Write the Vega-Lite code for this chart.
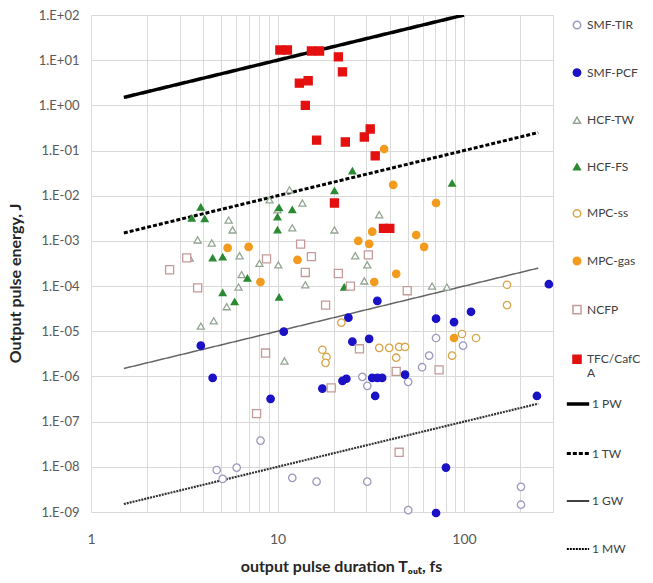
{
  "$schema": "https://vega.github.io/schema/vega-lite/v6.json",
  "autosize": {"type": "none"},
  "width": 462,
  "height": 497,
  "padding": {"left": 91, "top": 15, "right": 100, "bottom": 71},
  "background": "white",
  "config": {"font": "Lato", "view": {"stroke": null}},
  "datasets": {
    "lns": [
      {"T": 1.5, "E": 1.5, "p": "1 PW"}, {"T": 100, "E": 100, "p": "1 PW"},
      {"T": 1.5, "E": 0.0015, "p": "1 TW"}, {"T": 250, "E": 0.25, "p": "1 TW"},
      {"T": 1.5, "E": 1.5e-6, "p": "1 GW"}, {"T": 250, "E": 2.5e-4, "p": "1 GW"},
      {"T": 1.5, "E": 1.5e-9, "p": "1 MW"}, {"T": 250, "E": 2.5e-7, "p": "1 MW"}
    ],
    "pts": [
      {"s": "SMF-TIR", "T": 4.72, "E": 8.5e-9}, {"s": "SMF-TIR", "T": 5.08, "E": 5.4e-9}, {"s": "SMF-TIR", "T": 6.04, "E": 9.6e-9},
      {"s": "SMF-TIR", "T": 8.11, "E": 3.8e-8}, {"s": "SMF-TIR", "T": 12.0, "E": 5.7e-9}, {"s": "SMF-TIR", "T": 16.2, "E": 4.7e-9},
      {"s": "SMF-TIR", "T": 30.3, "E": 4.7e-9}, {"s": "SMF-TIR", "T": 50.2, "E": 1.1e-9}, {"s": "SMF-TIR", "T": 202, "E": 3.6e-9},
      {"s": "SMF-TIR", "T": 202, "E": 1.45e-9}, {"s": "SMF-TIR", "T": 28.5, "E": 9.8e-7}, {"s": "SMF-TIR", "T": 30.3, "E": 6.2e-7},
      {"s": "SMF-TIR", "T": 50.2, "E": 7.6e-7}, {"s": "SMF-TIR", "T": 59.6, "E": 1.6e-6}, {"s": "SMF-TIR", "T": 65, "E": 2.9e-6},
      {"s": "SMF-TIR", "T": 70.8, "E": 7.1e-6}, {"s": "SMF-TIR", "T": 98.8, "E": 4.8e-6},
      {"s": "SMF-PCF", "T": 3.88, "E": 4.8e-6}, {"s": "SMF-PCF", "T": 4.49, "E": 9.3e-7}, {"s": "SMF-PCF", "T": 9.18, "E": 3.2e-7},
      {"s": "SMF-PCF", "T": 10.8, "E": 9.8e-6}, {"s": "SMF-PCF", "T": 17.4, "E": 5.4e-7}, {"s": "SMF-PCF", "T": 22.3, "E": 8e-7},
      {"s": "SMF-PCF", "T": 23.4, "E": 8.9e-7}, {"s": "SMF-PCF", "T": 32.2, "E": 9.3e-7}, {"s": "SMF-PCF", "T": 34.3, "E": 9.3e-7},
      {"s": "SMF-PCF", "T": 36.4, "E": 9.3e-7}, {"s": "SMF-PCF", "T": 33.4, "E": 3.7e-7}, {"s": "SMF-PCF", "T": 34.3, "E": 4.7e-5},
      {"s": "SMF-PCF", "T": 24, "E": 2e-5}, {"s": "SMF-PCF", "T": 25.2, "E": 5.9e-6}, {"s": "SMF-PCF", "T": 31, "E": 6.8e-6},
      {"s": "SMF-PCF", "T": 48.3, "E": 1.1e-6}, {"s": "SMF-PCF", "T": 70.8, "E": 1.9e-5}, {"s": "SMF-PCF", "T": 88.4, "E": 1.6e-5},
      {"s": "SMF-PCF", "T": 109, "E": 2.7e-5}, {"s": "SMF-PCF", "T": 285, "E": 1.1e-4}, {"s": "SMF-PCF", "T": 246, "E": 3.7e-7},
      {"s": "SMF-PCF", "T": 80, "E": 9.6e-9}, {"s": "SMF-PCF", "T": 70.8, "E": 9.5e-10},
      {"s": "HCF-TW", "T": 3.38, "E": 4.2e-4}, {"s": "HCF-TW", "T": 3.73, "E": 1.05e-3}, {"s": "HCF-TW", "T": 4.44, "E": 9e-4},
      {"s": "HCF-TW", "T": 5.47, "E": 2.9e-3}, {"s": "HCF-TW", "T": 5.74, "E": 1.75e-3}, {"s": "HCF-TW", "T": 6.26, "E": 4.7e-4},
      {"s": "HCF-TW", "T": 6.42, "E": 1.8e-4}, {"s": "HCF-TW", "T": 6.18, "E": 9.5e-5}, {"s": "HCF-TW", "T": 8.0, "E": 3.2e-4},
      {"s": "HCF-TW", "T": 9.06, "E": 8.1e-3}, {"s": "HCF-TW", "T": 10, "E": 4.9e-3}, {"s": "HCF-TW", "T": 10.1, "E": 2.95e-4},
      {"s": "HCF-TW", "T": 11.6, "E": 0.0135}, {"s": "HCF-TW", "T": 12, "E": 1.95e-3}, {"s": "HCF-TW", "T": 13.6, "E": 6.9e-3},
      {"s": "HCF-TW", "T": 20.2, "E": 1.75e-3}, {"s": "HCF-TW", "T": 35.1, "E": 3.8e-3}, {"s": "HCF-TW", "T": 26.1, "E": 4.7e-4},
      {"s": "HCF-TW", "T": 30.3, "E": 2.95e-4}, {"s": "HCF-TW", "T": 29.2, "E": 1.3e-4}, {"s": "HCF-TW", "T": 14.1, "E": 1.07e-4},
      {"s": "HCF-TW", "T": 67.4, "E": 1e-4}, {"s": "HCF-TW", "T": 81, "E": 9.5e-5}, {"s": "HCF-TW", "T": 3.88, "E": 1.3e-5},
      {"s": "HCF-TW", "T": 4.55, "E": 1.7e-5}, {"s": "HCF-TW", "T": 5.34, "E": 3.5e-5}, {"s": "HCF-TW", "T": 10.9, "E": 2.2e-6},
      {"s": "HCF-FS", "T": 3.88, "E": 5.6e-3}, {"s": "HCF-FS", "T": 3.47, "E": 3.2e-3}, {"s": "HCF-FS", "T": 4.07, "E": 3.1e-3},
      {"s": "HCF-FS", "T": 4.49, "E": 4.2e-4}, {"s": "HCF-FS", "T": 5.08, "E": 4.4e-4}, {"s": "HCF-FS", "T": 6.9, "E": 1.5e-4},
      {"s": "HCF-FS", "T": 10, "E": 3.4e-3}, {"s": "HCF-FS", "T": 10.2, "E": 5.4e-3}, {"s": "HCF-FS", "T": 10, "E": 1.75e-3},
      {"s": "HCF-FS", "T": 12, "E": 4.9e-3}, {"s": "HCF-FS", "T": 5.08, "E": 7.1e-5}, {"s": "HCF-FS", "T": 5.89, "E": 4.5e-5},
      {"s": "HCF-FS", "T": 10.2, "E": 5.7e-5}, {"s": "HCF-FS", "T": 20.2, "E": 0.0129}, {"s": "HCF-FS", "T": 25.2, "E": 0.0355},
      {"s": "HCF-FS", "T": 86.3, "E": 0.019}, {"s": "HCF-FS", "T": 22.8, "E": 9.5e-5},
      {"s": "MPC-ss", "T": 22, "E": 1.55e-5}, {"s": "MPC-ss", "T": 17.4, "E": 3.9e-6}, {"s": "MPC-ss", "T": 18.3, "E": 2.7e-6},
      {"s": "MPC-ss", "T": 18.1, "E": 2e-6}, {"s": "MPC-ss", "T": 35.1, "E": 4.3e-6}, {"s": "MPC-ss", "T": 39.7, "E": 4.3e-6},
      {"s": "MPC-ss", "T": 44.9, "E": 4.5e-6}, {"s": "MPC-ss", "T": 48.3, "E": 4.5e-6}, {"s": "MPC-ss", "T": 43.3, "E": 2.6e-6},
      {"s": "MPC-ss", "T": 86.3, "E": 2.9e-6}, {"s": "MPC-ss", "T": 97.5, "E": 8.7e-6}, {"s": "MPC-ss", "T": 116, "E": 7.1e-6},
      {"s": "MPC-ss", "T": 170, "E": 1.07e-4}, {"s": "MPC-ss", "T": 170, "E": 3.8e-5},
      {"s": "MPC-gas", "T": 5.4, "E": 7e-4}, {"s": "MPC-gas", "T": 7.0, "E": 7.4e-4}, {"s": "MPC-gas", "T": 8.1, "E": 1.23e-4},
      {"s": "MPC-gas", "T": 12.8, "E": 3.8e-4}, {"s": "MPC-gas", "T": 37.3, "E": 0.108}, {"s": "MPC-gas", "T": 41.7, "E": 0.0174},
      {"s": "MPC-gas", "T": 70.8, "E": 6.9e-3}, {"s": "MPC-gas", "T": 32.2, "E": 1.6e-3}, {"s": "MPC-gas", "T": 27.1, "E": 1e-3},
      {"s": "MPC-gas", "T": 31, "E": 8.6e-4}, {"s": "MPC-gas", "T": 55.4, "E": 1.35e-3}, {"s": "MPC-gas", "T": 61.1, "E": 7.4e-4},
      {"s": "MPC-gas", "T": 43.3, "E": 1.87e-4}, {"s": "MPC-gas", "T": 33, "E": 1.23e-4}, {"s": "MPC-gas", "T": 88.4, "E": 7.1e-6},
      {"s": "NCFP", "T": 2.64, "E": 2.3e-4}, {"s": "NCFP", "T": 3.26, "E": 4.2e-4}, {"s": "NCFP", "T": 3.73, "E": 9.1e-5},
      {"s": "NCFP", "T": 8.73, "E": 4e-4}, {"s": "NCFP", "T": 13.3, "E": 8.5e-4}, {"s": "NCFP", "T": 15.2, "E": 4.5e-4},
      {"s": "NCFP", "T": 14.1, "E": 2e-4}, {"s": "NCFP", "T": 21.2, "E": 1.9e-4}, {"s": "NCFP", "T": 24.6, "E": 1e-4},
      {"s": "NCFP", "T": 30.7, "E": 4.9e-4}, {"s": "NCFP", "T": 49.6, "E": 7.9e-5}, {"s": "NCFP", "T": 18.1, "E": 3.8e-5},
      {"s": "NCFP", "T": 27.5, "E": 4.1e-6}, {"s": "NCFP", "T": 43.3, "E": 1.3e-6}, {"s": "NCFP", "T": 73.5, "E": 1.4e-6},
      {"s": "NCFP", "T": 19.4, "E": 5.6e-7}, {"s": "NCFP", "T": 8.63, "E": 3.3e-6}, {"s": "NCFP", "T": 7.72, "E": 1.5e-7},
      {"s": "NCFP", "T": 44.9, "E": 2.1e-8},
      {"s": "TFC/CafCA", "T": 10.3, "E": 16.8}, {"s": "TFC/CafCA", "T": 11.3, "E": 16.8}, {"s": "TFC/CafCA", "T": 15.2, "E": 16},
      {"s": "TFC/CafCA", "T": 16.8, "E": 16}, {"s": "TFC/CafCA", "T": 21.2, "E": 11.8}, {"s": "TFC/CafCA", "T": 22.3, "E": 5.5},
      {"s": "TFC/CafCA", "T": 13.1, "E": 3.1}, {"s": "TFC/CafCA", "T": 14.6, "E": 3.5}, {"s": "TFC/CafCA", "T": 14.1, "E": 1.0},
      {"s": "TFC/CafCA", "T": 16.2, "E": 0.17}, {"s": "TFC/CafCA", "T": 23.1, "E": 0.155}, {"s": "TFC/CafCA", "T": 29.2, "E": 0.2},
      {"s": "TFC/CafCA", "T": 31.4, "E": 0.3}, {"s": "TFC/CafCA", "T": 33.4, "E": 0.076}, {"s": "TFC/CafCA", "T": 20.2, "E": 0.0069},
      {"s": "TFC/CafCA", "T": 37, "E": 0.0019}, {"s": "TFC/CafCA", "T": 40, "E": 0.0019}
    ]
  },
  "encoding": {
    "x": {
      "field": "T", "type": "quantitative",
      "scale": {"type": "log", "domain": [1, 300]},
      "axis": {
        "values": [1, 2, 3, 4, 5, 6, 7, 8, 9, 10, 20, 30, 40, 50, 60, 70, 80, 90, 100, 200, 300],
        "labelExpr": "datum.value == 1 || datum.value == 10 || datum.value == 100 ? '' + datum.value : ''",
        "grid": true, "gridColor": "#d9d9d9", "gridWidth": 1, "domain": false, "ticks": false,
        "labelFontSize": 14, "labelColor": "#595959", "labelPadding": 20, "labelFlush": false,
        "title": "output pulse duration  T\u2092\u1d64\u209c,  fs",
        "titleFontSize": 16, "titleFontWeight": "bold", "titleColor": "#262626",
        "titleX": 250, "titleY": 46
      }
    },
    "y": {
      "field": "E", "type": "quantitative",
      "scale": {"type": "log", "domain": [1e-9, 100]},
      "axis": {
        "values": [1e-9, 1e-8, 1e-7, 1e-6, 1e-5, 1e-4, 1e-3, 1e-2, 1e-1, 1, 10, 100],
        "labelExpr": "'1.E' + (datum.value >= 1 ? '+' : '-') + '0' + format(abs(round(log(datum.value)/LN10)), 'd')",
        "grid": true, "gridColor": "#d9d9d9", "gridWidth": 1, "domain": false, "ticks": false,
        "labelFontSize": 13, "labelColor": "#595959", "labelPadding": 12,
        "title": "Output pulse energy,  J",
        "titleFontSize": 16, "titleFontWeight": "bold", "titleColor": "#262626",
        "titleY": 268, "titleX": -68
      }
    }
  },
  "layer": [
    {
      "data": {"name": "lns"},
      "mark": {"type": "line", "color": "black", "clip": true},
      "encoding": {
        "strokeDash": {
          "field": "p", "type": "nominal",
          "scale": {"domain": ["1 PW", "1 TW", "1 GW", "1 MW"], "range": [[1, 0], [4, 2], [1, 0], [2, 1]]},
          "legend": {"title": null, "orient": "none", "legendX": 474, "legendY": 376, "symbolType": "stroke", "symbolSize": 500, "labelFontSize": 12, "labelColor": "#404040", "rowPadding": 29.5, "labelOffset": 1}
        },
        "strokeWidth": {
          "field": "p", "type": "nominal",
          "scale": {"type": "ordinal", "domain": ["1 PW", "1 TW", "1 GW", "1 MW"], "range": [3.5, 3, 1.5, 2.2]},
          "legend": {"title": null, "orient": "none", "legendX": 474, "legendY": 376, "symbolType": "stroke", "symbolSize": 500, "labelFontSize": 12, "labelColor": "#404040", "rowPadding": 29.5, "labelOffset": 1}
        },
        "strokeOpacity": {
          "field": "p", "type": "nominal",
          "scale": {"type": "ordinal", "domain": ["1 PW", "1 TW", "1 GW", "1 MW"], "range": [1, 1, 0.6, 0.8]},
          "legend": {"title": null, "orient": "none", "legendX": 474, "legendY": 376, "symbolType": "stroke", "symbolSize": 500, "labelFontSize": 12, "labelColor": "#404040", "rowPadding": 29.5, "labelOffset": 1}
        }
      }
    },
    {
      "data": {"name": "pts"},
      "mark": {"type": "point", "filled": true, "strokeWidth": 1.3, "opacity": 1},
      "encoding": {
        "shape": {
          "field": "s", "type": "nominal",
          "scale": {"domain": ["SMF-TIR", "SMF-PCF", "HCF-TW", "HCF-FS", "MPC-ss", "MPC-gas", "NCFP", "TFC/CafCA"],
                    "range": ["circle", "circle", "triangle-up", "triangle-up", "circle", "circle", "square", "square"]},
          "legend": {"title": null, "orient": "none", "legendX": 480, "legendY": 4, "labelFontSize": 12, "labelColor": "#404040", "rowPadding": 33.6,
                     "labelExpr": "datum.label == 'TFC/CafCA' ? ['TFC/CafC', 'A'] : datum.label"}
        },
        "fill": {
          "field": "s", "type": "nominal",
          "scale": {"domain": ["SMF-TIR", "SMF-PCF", "HCF-TW", "HCF-FS", "MPC-ss", "MPC-gas", "NCFP", "TFC/CafCA"],
                    "range": ["white", "#1b12c6", "white", "#2a8a32", "white", "#f29b1f", "white", "#e3100f"]},
          "legend": {"title": null, "orient": "none", "legendX": 480, "legendY": 4, "labelFontSize": 12, "labelColor": "#404040", "rowPadding": 33.6,
                     "labelExpr": "datum.label == 'TFC/CafCA' ? ['TFC/CafC', 'A'] : datum.label"}
        },
        "stroke": {
          "field": "s", "type": "nominal",
          "scale": {"domain": ["SMF-TIR", "SMF-PCF", "HCF-TW", "HCF-FS", "MPC-ss", "MPC-gas", "NCFP", "TFC/CafCA"],
                    "range": ["#9b99bd", "#1b12c6", "#93a593", "#2a8a32", "#d8a548", "#f29b1f", "#c49a9a", "#e3100f"]},
          "legend": {"title": null, "orient": "none", "legendX": 480, "legendY": 4, "labelFontSize": 12, "labelColor": "#404040", "rowPadding": 33.6,
                     "labelExpr": "datum.label == 'TFC/CafCA' ? ['TFC/CafC', 'A'] : datum.label"}
        },
        "size": {
          "field": "s", "type": "nominal",
          "scale": {"type": "ordinal", "domain": ["SMF-TIR", "SMF-PCF", "HCF-TW", "HCF-FS", "MPC-ss", "MPC-gas", "NCFP", "TFC/CafCA"],
                    "range": [55, 55, 50, 45, 55, 55, 65, 65]},
          "legend": {"title": null, "orient": "none", "legendX": 480, "legendY": 4, "labelFontSize": 12, "labelColor": "#404040", "rowPadding": 33.6,
                     "labelExpr": "datum.label == 'TFC/CafCA' ? ['TFC/CafC', 'A'] : datum.label"}
        }
      }
    }
  ]
}
